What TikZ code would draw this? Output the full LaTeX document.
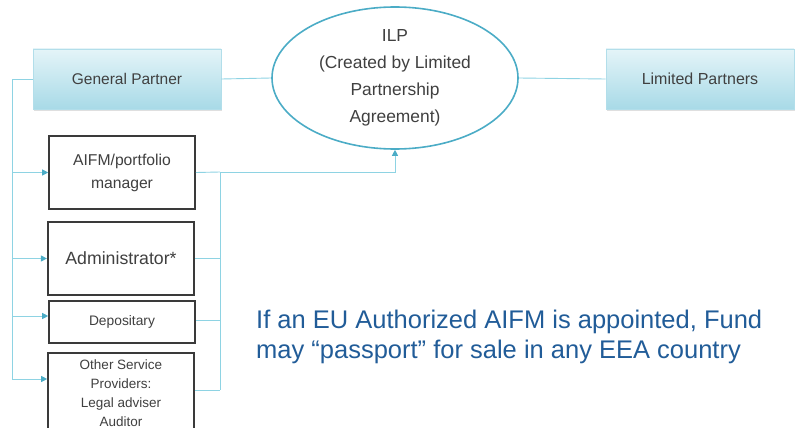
\documentclass[tikz,border=0pt]{standalone}
\usepackage{fontspec}
\setmainfont{Liberation Sans}
\usetikzlibrary{shapes.geometric,arrows.meta,shadows}
\definecolor{linec}{HTML}{8ED3E3}
\definecolor{tipc}{HTML}{4BACC6}
\definecolor{ellc}{HTML}{4BACC6}
\definecolor{gtop}{HTML}{E4F4F8}
\definecolor{gbot}{HTML}{A8DAE7}
\definecolor{gbord}{HTML}{B2DEEA}
\definecolor{txtc}{HTML}{404040}
\definecolor{notec}{HTML}{215C98}
\definecolor{boxc}{HTML}{3A3A3A}
\begin{document}
\begin{tikzpicture}[x=1pt,y=-1pt,
  partybox/.style={rectangle, minimum width=188pt, minimum height=60pt,
    top color=gtop, bottom color=gbot, draw=gbord, line width=0.8pt, text=txtc,
    inner sep=0pt, font=\fontsize{15.5}{18}\selectfont,
    drop shadow={shadow xshift=1pt,shadow yshift=-2pt,opacity=0.25}},
  servbox/.style={rectangle, minimum width=146pt, draw=boxc, line width=1.6pt,
    fill=white, text=txtc, inner sep=0pt, align=center,
    drop shadow={shadow xshift=1pt,shadow yshift=-1pt,opacity=0.15}},
  conn/.style={draw=linec, line width=0.9pt},
  arr/.style={-{Triangle[length=6pt,width=6pt,color=tipc]}},
  notetext/.style={text=notec, font=\fontsize{25.5}{30}\selectfont, inner sep=0pt}
]
\useasboundingbox (0,0) rectangle (795,428);

\node[partybox] (gp) at (127,79) {General Partner};
\node[partybox, font=\fontsize{16}{18}\selectfont] (lp) at (700,79) {Limited Partners};
\node[ellipse, draw=ellc, line width=1.6pt, fill=white, minimum width=246pt,
  minimum height=142pt, inner sep=0pt, align=center, text=txtc,
  font=\fontsize{17.4}{27}\selectfont] (ilp) at (395,78)
  {ILP\\(Created by Limited\\Partnership\\Agreement)};

\node[servbox, minimum height=73pt, font=\fontsize{15.7}{23}\selectfont] (aifm) at (122,172.5) {AIFM/portfolio\\manager};
\node[servbox, minimum height=73pt, line width=2.2pt, font=\fontsize{17.7}{21}\selectfont] (admin) at (121,258.5) {Administrator*};
\node[servbox, minimum height=42pt, font=\fontsize{13.8}{16}\selectfont] (dep) at (122,322) {Depositary};
\node[servbox, minimum height=80pt, font=\fontsize{13.5}{19}\selectfont] (other) at (121,393) {Other Service\\Providers:\\Legal adviser\\Auditor};

\node[notetext, anchor=base west] (note1) at (256,328) {If an EU Authorized AIFM is appointed, Fund};
\node[notetext, anchor=base west] (note2) at (256,358) {may “passport” for sale in any EEA country};

% top connectors
\draw[conn] (gp.east) -- (ilp.west);
\draw[conn] (ilp.east) -- (lp.west);

% left bus
\coordinate (busL) at (12,79);
\coordinate (depin) at ([yshift=6pt]dep.west);
\coordinate (otherin) at ([yshift=14pt]other.west);
\draw[conn] (gp.west) -- (busL) -- (busL |- otherin);
\draw[conn,arr] (busL |- aifm.west) -- (aifm.west);
\draw[conn,arr] (busL |- admin.west) -- (admin.west);
\draw[conn,arr] (busL |- depin) -- (depin);
\draw[conn,arr] (busL |- otherin) -- (otherin);

% right bus
\coordinate (busR) at (220,172);
\coordinate (depout) at ([yshift=2pt]dep.east);
\coordinate (otherout) at ([yshift=3pt]other.east);
\draw[conn] (aifm.east) -- (busR);
\draw[conn,arr] (busR) -- (ilp.south |- busR) -- (ilp.south);
\draw[conn] (busR) -- (busR |- otherout);
\draw[conn] (admin.east) -- (busR |- admin.east);
\draw[conn] (depout) -- (busR |- depout);
\draw[conn] (otherout) -- (busR |- otherout);
\end{tikzpicture}
\end{document}
